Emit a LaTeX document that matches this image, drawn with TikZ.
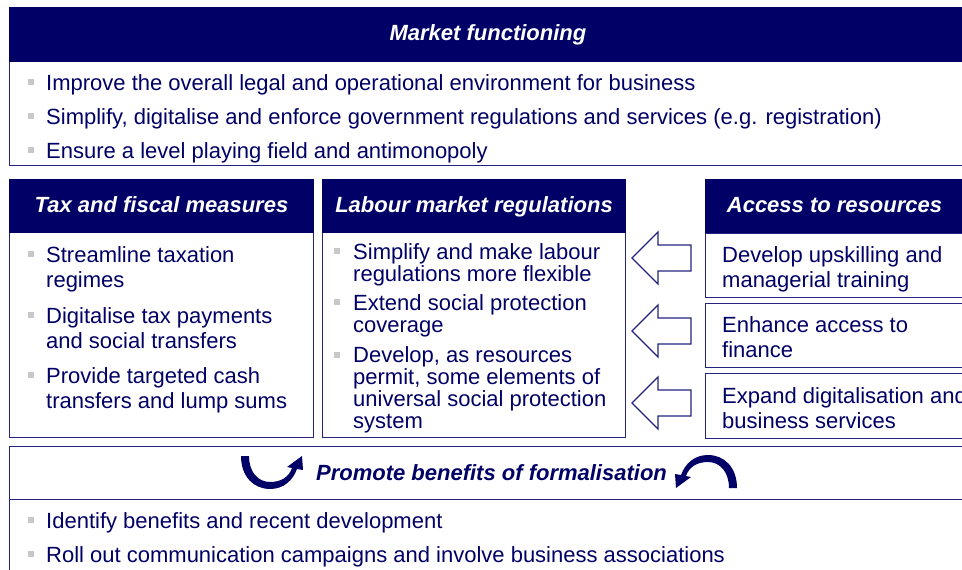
\documentclass[tikz,border=0pt]{standalone}
\usepackage{fontspec}
\setmainfont{Liberation Sans}
\begin{document}
\begin{tikzpicture}[x=1pt,y=-1pt]
\definecolor{navy}{RGB}{0,0,102}
\definecolor{rule}{RGB}{36,36,128}
\definecolor{bulgray}{RGB}{200,200,200}
\tikzset{
  hdr/.style={draw=navy, fill=navy, line width=1pt, inner sep=0pt, anchor=north west,
    text=white, font=\fontsize{22}{26}\selectfont\bfseries\itshape,
    text height=16pt, text depth=4pt},
  panel/.style={draw=rule, line width=1.3pt, fill=white, inner sep=0pt, anchor=north west},
  % multi-line items are placed by the baseline of their last line
  item/.style={anchor=base west, inner sep=0pt, text=navy, align=left,
    font=\fontsize{22}{25}\selectfont},
  tightitem/.style={item, font=\fontsize{22}{21.7}\selectfont},
  bul/.pic={\fill[bulgray] (-3,-3) rectangle (3,3);},
  blockarr/.pic={\draw[rule, line width=1.2pt, fill=white, line join=miter]
    (0,0) -- (26,-26) -- (26,-13) -- (59,-13) -- (59,13) -- (26,13) -- (26,26) -- cycle;},
  turnarr/.pic={\fill[navy]
    (-31,-16) .. controls (-31,5) and (-18,17) .. (-2,17)
    .. controls (12,17) and (21,8) .. (25,-3) -- (31,-2) -- (30,-16) -- (15,-5) -- (20,-4)
    .. controls (17,5) and (9,10) .. (-2,10)
    .. controls (-14,10) and (-23,0) .. (-23,-16) -- cycle;}
}
\useasboundingbox (0,0) rectangle (962,570);
\fill[white] (0,0) rectangle (962,570);

% ---- Market functioning ----
\node[panel, minimum width=957pt, minimum height=104pt] (mfbody) at (9,61) {};
\node[hdr, minimum width=957pt, minimum height=54pt] (mfhead) at (9,7) {Market functioning};
\pic at (31,82) {bul};
\pic at (31,116) {bul};
\pic at (31,150) {bul};
\node[item] (mf1) at (46,90) {Improve the overall legal and operational environment for business};
\node[item] (mf2) at (46,124) {Simplify, digitalise and enforce government regulations and services (e.g. registration)};
\node[item] (mf3) at (46,158) {Ensure a level playing field and antimonopoly};

% ---- Tax and fiscal measures ----
\node[panel, minimum width=304pt, minimum height=205pt] (taxbody) at (9,232) {};
\node[hdr, minimum width=304pt, minimum height=53pt] (taxhead) at (9,179) {Tax and fiscal measures};
\pic at (31,254) {bul};
\pic at (31,315) {bul};
\pic at (31,375) {bul};
\node[item] (tax1) at (46,287) {Streamline taxation\\regimes};
\node[item] (tax2) at (46,348) {Digitalise tax payments\\and social transfers};
\node[item] (tax3) at (46,408) {Provide targeted cash\\transfers and lump sums};

% ---- Labour market regulations ----
\node[panel, minimum width=303pt, minimum height=205pt] (labbody) at (322,232) {};
\node[hdr, minimum width=303pt, minimum height=53pt] (labhead) at (322,179) {Labour market regulations};
\pic at (337,251) {bul};
\pic at (337,302) {bul};
\pic at (337,355) {bul};
\node[tightitem] (lab1) at (353,281) {Simplify and make labour\\regulations more flexible};
\node[tightitem] (lab2) at (353,332) {Extend social protection\\coverage};
\node[tightitem] (lab3) at (353,428) {Develop, as resources\\permit, some elements of\\universal social protection\\system};

% ---- Access to resources ----
\node[hdr, minimum width=258pt, minimum height=54pt] (acchead) at (705,179) {Access to resources};
\node[panel, minimum width=258pt, minimum height=64pt] (acc1) at (705,233) {};
\node[panel, minimum width=258pt, minimum height=64pt] (acc2) at (705,303) {};
\node[panel, minimum width=258pt, minimum height=65pt] (acc3) at (705,373) {};
\node[item] (acc1t) at (722,287) {Develop upskilling and\\managerial training};
\node[item] (acc2t) at (722,357) {Enhance access to\\finance};
\node[item] (acc3t) at (722,428) {Expand digitalisation and\\business services};

% ---- block arrows from resources to labour regulations ----
\pic at (632,258) {blockarr};
\pic at (632,331) {blockarr};
\pic at (632,403) {blockarr};

% ---- Promote benefits of formalisation ----
\node[panel, minimum width=957pt, minimum height=90pt] (probody) at (9,499) {};
\node[panel, minimum width=957pt, minimum height=53pt] (proband) at (9,446) {};
\node[anchor=base, inner sep=0pt, text=navy, font=\fontsize{22}{26}\selectfont\bfseries\itshape]
  (protitle) at (491.5,480) {Promote benefits of formalisation};
\pic at (272,472) {turnarr};
\pic[rotate=180] at (706,472) {turnarr};
\pic at (31,520) {bul};
\pic at (31,554) {bul};
\node[item] (pro1) at (46,528) {Identify benefits and recent development};
\node[item] (pro2) at (46,562) {Roll out communication campaigns and involve business associations};
\end{tikzpicture}
\end{document}
